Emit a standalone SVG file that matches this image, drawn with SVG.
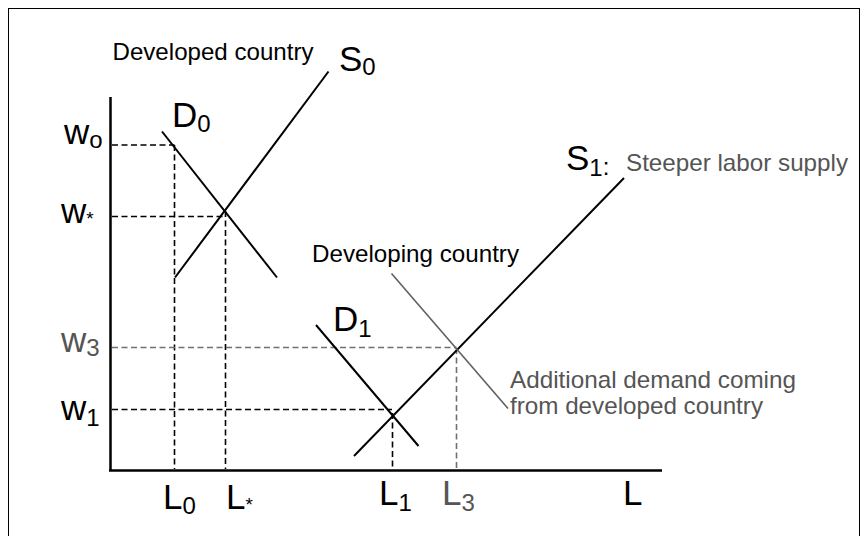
<svg xmlns="http://www.w3.org/2000/svg" width="861" height="536" viewBox="0 0 861 536">
<style>
.t{font-family:"Liberation Sans",Arial,sans-serif;fill:#000}
.big{font-size:35px}
.sub{font-size:24px}
.small{font-size:24px}
.ast{font-size:19px}
.g{fill:#555}
.ax{stroke:#000;stroke-width:2.5;fill:none}
.cv{stroke:#000;stroke-width:2;fill:none}
.gl{stroke:#606060;stroke-width:1.6;fill:none}
.dk{stroke:#000;stroke-width:1.6;stroke-dasharray:6 3.5;fill:none}
.dg{stroke:#707070;stroke-width:1.6;stroke-dasharray:6 3.5;fill:none}
</style>
<rect x="0" y="0" width="861" height="536" fill="#fff"/>
<rect x="8.5" y="8.5" width="851" height="560" fill="none" stroke="#000" stroke-width="1"/>
<g id="axes">
<line class="ax" x1="110.5" y1="97" x2="110.5" y2="471"/>
<line class="ax" x1="109" y1="470.5" x2="662" y2="470.5"/>
</g>
<g id="guides">
<line class="dk" x1="112" y1="145" x2="174.5" y2="145"/>
<line class="dk" x1="174.5" y1="145" x2="174.5" y2="469"/>
<line class="dk" x1="112" y1="216.5" x2="224" y2="216.5"/>
<line class="dk" x1="225.5" y1="211" x2="225.5" y2="469"/>
<line class="dg" x1="112" y1="347.5" x2="456.5" y2="347.5"/>
<line class="dg" x1="456.5" y1="348" x2="456.5" y2="469"/>
<line class="dk" x1="112" y1="409.5" x2="392" y2="409.5"/>
<line class="dk" x1="392.5" y1="413" x2="392.5" y2="469"/>
</g>
<g id="curves">
<line id="D0" class="cv" x1="162" y1="131.5" x2="277" y2="277.5"/>
<line id="S0" class="cv" x1="175" y1="277.5" x2="328.5" y2="71.5"/>
<line id="D1" class="cv" x1="316" y1="325" x2="418.5" y2="446"/>
<line id="S1" class="cv" x1="354" y1="456" x2="624" y2="178"/>
<line id="Dadd" class="gl" x1="391.5" y1="273.5" x2="508" y2="408.5"/>
</g>
<g id="labels">
<text class="t small" x="112.5" y="60" textLength="201" lengthAdjust="spacingAndGlyphs">Developed country</text>
<text class="t big" x="339" y="71">S<tspan class="sub" dy="4">0</tspan></text>
<text class="t big" x="172" y="127">D<tspan class="sub" dy="5">0</tspan></text>
<text class="t big" x="333" y="331">D<tspan class="sub" dy="6">1</tspan></text>
<text class="t big" x="566" y="170">S<tspan class="sub" dy="6">1</tspan><tspan class="sub" dy="-1">:</tspan></text>
<text class="t small g" x="626" y="171" textLength="222" lengthAdjust="spacingAndGlyphs">Steeper labor supply</text>
<text class="t small" x="312" y="262" textLength="207" lengthAdjust="spacingAndGlyphs">Developing country</text>
<text class="t small g" x="510" y="388" textLength="286" lengthAdjust="spacingAndGlyphs">Additional demand coming</text>
<text class="t small g" x="510" y="414" textLength="253" lengthAdjust="spacingAndGlyphs">from developed country</text>
<text class="t big" x="64" y="144">w<tspan class="sub" dy="4">o</tspan></text>
<text class="t big" x="61" y="223">w<tspan class="ast" dy="2">*</tspan></text>
<text class="t big g" x="61" y="352">w<tspan class="sub" dy="4">3</tspan></text>
<text class="t big" x="61" y="420">w<tspan class="sub" dy="6">1</tspan></text>
<text class="t big" x="163" y="509">L<tspan class="sub" dy="5">0</tspan></text>
<text class="t big" x="226" y="509">L<tspan class="ast" dy="2">*</tspan></text>
<text class="t big" x="379" y="505">L<tspan class="sub" dy="6">1</tspan></text>
<text class="t big g" x="442" y="505">L<tspan class="sub" dy="6">3</tspan></text>
<text class="t big" x="623" y="505">L</text>
</g>
</svg>
